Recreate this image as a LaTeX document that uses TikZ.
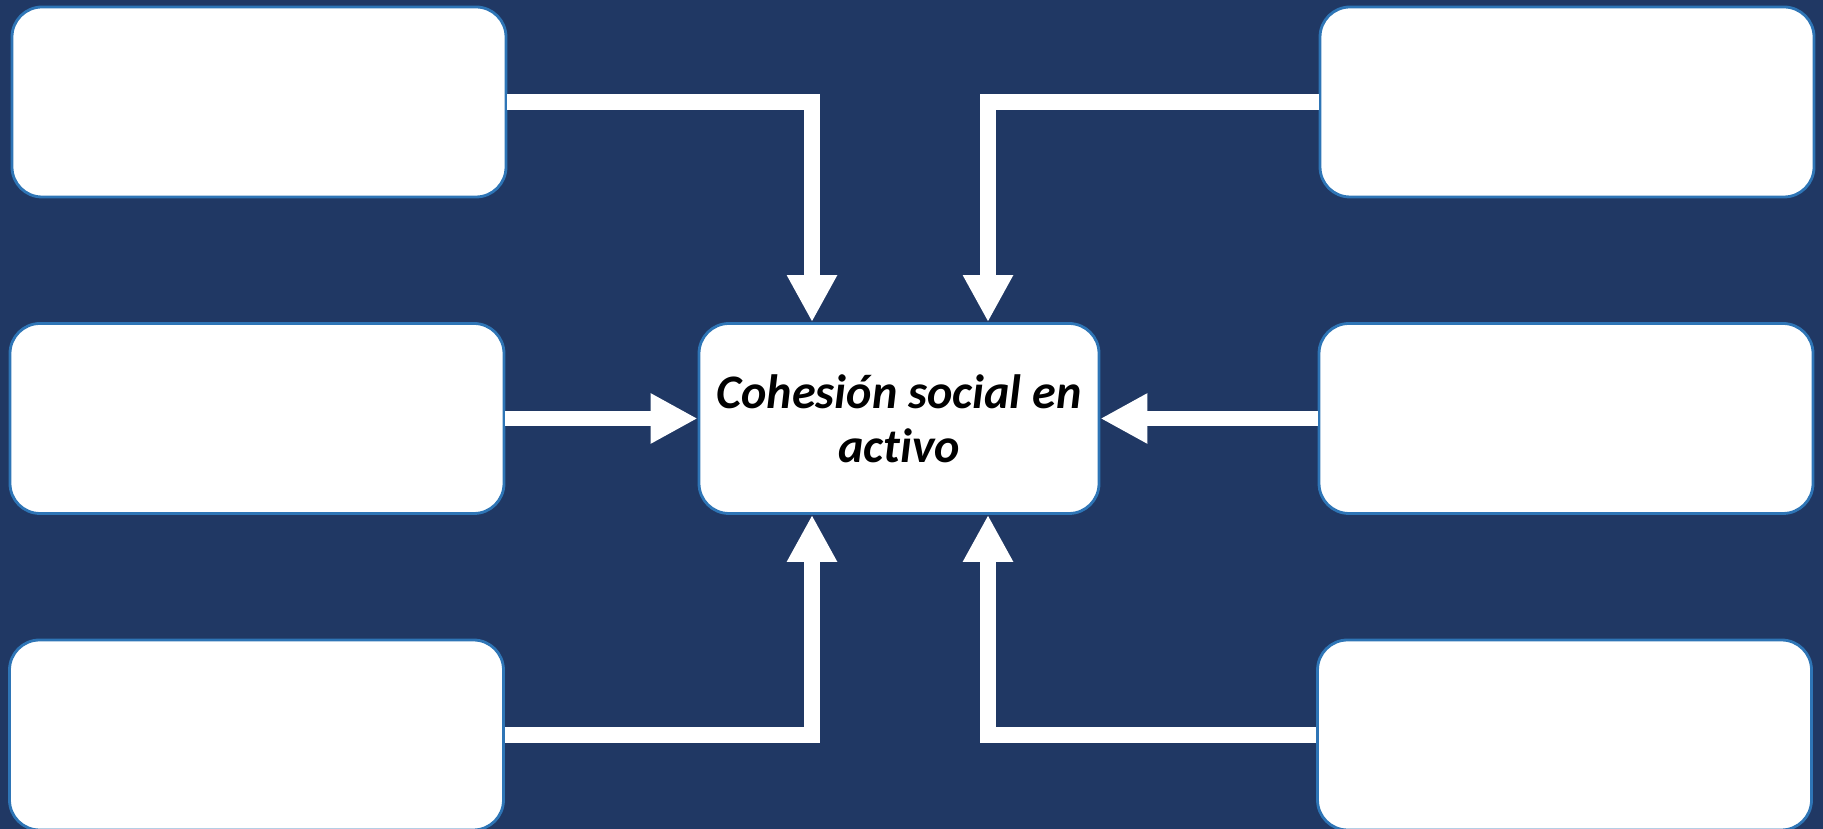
\documentclass[tikz,border=0pt]{standalone}
\usepackage{fontspec}
\setmainfont{Carlito}[Ligatures=NoCommon]
\usepackage{tikz}
\usetikzlibrary{arrows.meta, calc}
\definecolor{bgnavy}{RGB}{32, 56, 100}
\definecolor{boxedge}{RGB}{46, 117, 182}

\begin{document}
\begin{tikzpicture}[x=0.1mm, y=-0.1mm,
    card/.style={draw=boxedge, line width=0.8pt, fill=white, rounded corners=3mm,
      minimum width=49.4mm, minimum height=19mm},
    hubcard/.style={card, minimum width=40mm, align=center,
      font=\fontsize{13.7}{15.4}\selectfont\bfseries\itshape},
    link/.style={draw=white, line width=4.5pt,
      -{Triangle[length=4.7mm, width=4.7mm]}}]

  % --- Background ---
  \fill[bgnavy] (0,0) rectangle (1823,829);
  \useasboundingbox (0,0) rectangle (1823,829);

  % --- Cards ---
  \node[card] (tl) at (259, 102) {};
  \node[card] (tr) at (1567, 102) {};
  \node[card] (ml) at (257, 418.5) {};
  \node[card] (mr) at (1566, 418.5) {};
  \node[card] (bl) at (256.5, 735) {};
  \node[card] (br) at (1564.5, 735) {};

  % --- Centre ---
  \node[hubcard] (hub) at (899, 418.5) {Cohesión social en\\activo};

  % --- Links into the centre ---
  \draw[link] (tl.east) -| ([xshift=-8.7mm]hub.north);
  \draw[link] (tr.west) -| ([xshift=8.9mm]hub.north);
  \draw[link] (ml.east) -- (hub.west);
  \draw[link] (mr.west) -- (hub.east);
  \draw[link] (bl.east) -| ([xshift=-8.7mm]hub.south);
  \draw[link] (br.west) -| ([xshift=8.9mm]hub.south);

\end{tikzpicture}
\end{document}
